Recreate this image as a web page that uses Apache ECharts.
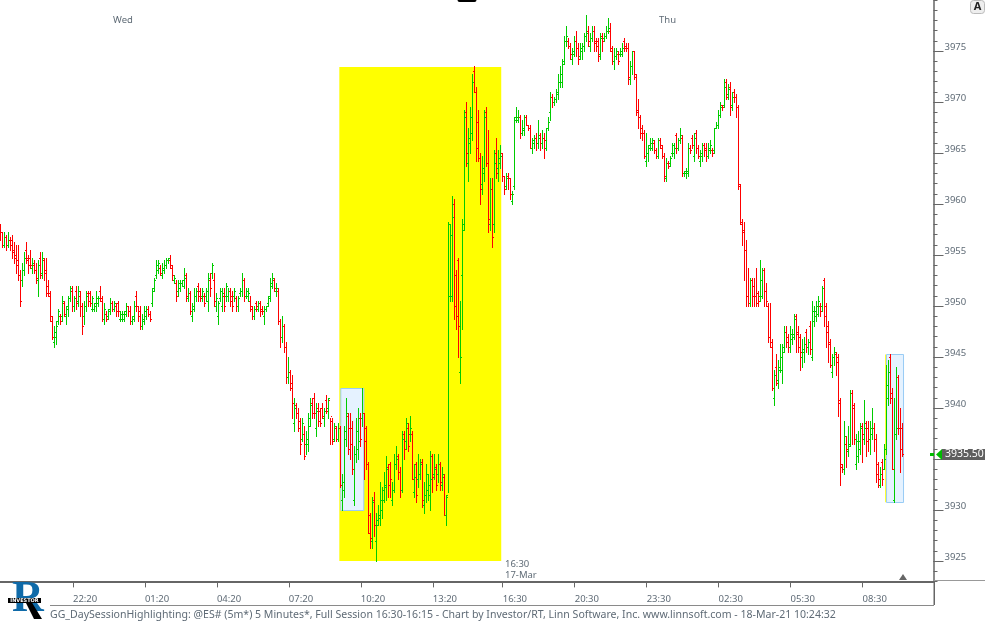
<!DOCTYPE html>
<html>
<head>
<meta charset="utf-8">
<style>html,body{margin:0;padding:0;background:#fff;}#c{width:985px;height:622px;}</style>
<script src="https://cdn.jsdelivr.net/npm/echarts@6/dist/echarts.min.js"></script>
</head>
<body>
<div id="c"></div>
<script>
const highs = [
3958,3957.25,3957.25,3957,3957.25,3956.75,3957,3956.25,3956,3956,
3953.5,3954.25,3955.25,3956.25,3955,3955.5,3954.75,3954.5,3954.25,3954.5,
3955.25,3955.25,3954.75,3954.75,3952.5,3951.5,3949,3948,3948.5,3949.75,
3949.25,3951,3950.5,3950,3951,3952,3952,3951,3952,3952,
3951.5,3950.25,3950.5,3951.5,3951.5,3951.5,3951,3950.25,3951.5,3951,
3952,3951,3950.25,3949.5,3949.75,3950.75,3950.5,3950.5,3950.25,3950.5,
3949.5,3949.5,3949.5,3950.25,3950,3950,3949,3950.5,3951.5,3950,
3950,3949.25,3950,3950,3950,3949.5,3951.75,3952.75,3954.5,3954.5,
3954,3954.25,3954.5,3954.75,3954.75,3955,3954,3953,3952.5,3952.5,
3952.5,3952.5,3953.75,3953.25,3951.75,3951.5,3950.25,3951.75,3951.75,3952.25,
3951.75,3951.75,3951.25,3951.75,3953.25,3953.25,3954.25,3953.25,3951.25,3950.5,
3951.75,3951.75,3951.75,3952.25,3951.75,3951.75,3951.5,3951.75,3951,3951,
3951.75,3953.25,3952.75,3951.75,3951.75,3951,3950,3950,3950.5,3950.5,
3950.5,3950,3950,3950,3951,3952.75,3953.25,3952.75,3952.25,3951.75,
3948.75,3949,3948.25,3946.5,3945,3943.75,3943.25,3941,3940.5,3940,
3939,3939,3938.25,3937.75,3939.5,3941,3941,3941.5,3940.5,3940.5,
3940,3940.5,3940,3941.25,3941,3939,3939,3938.5,3938.25,3938.5,
3938.25,3933.5,3938.25,3941,3939.5,3939.5,3938.75,3936.25,3939,3940,
3939.5,3942,3939.5,3938.25,3934.75,3929.75,3931.25,3931.75,3929.75,3930.5,
3932.75,3932.25,3933.75,3935.25,3934.5,3934.75,3932.75,3935.5,3936.25,3935.5,
3934.25,3937.75,3937.75,3939,3938.5,3939.25,3937.75,3934.5,3934.75,3935.5,
3935,3935,3932.75,3934.5,3933.5,3935.75,3935.5,3935.5,3934.5,3935.5,
3934.75,3934.25,3933.5,3931.5,3958.25,3958,3960.75,3960.5,3953.5,3954.75,
3950.5,3958.5,3969.25,3970,3967.5,3969.5,3972.75,3973.5,3971.5,3969.25,
3965,3964.75,3969.25,3969.5,3967.25,3962.5,3962.5,3965.25,3966.5,3965.25,
3965.75,3965,3962.75,3963,3963,3962.5,3961.25,3968.5,3969.5,3969.25,
3968.75,3968.25,3968.75,3968.75,3967.75,3967.75,3966.5,3966.75,3967,3968.25,
3967,3967.25,3967,3967.5,3968.5,3971,3970.75,3970.5,3971.25,3972.75,
3973.5,3974.25,3976.5,3977.5,3976.25,3975.75,3975.25,3976.5,3977,3975.75,
3975.75,3975.75,3976.75,3978.5,3977.5,3976.75,3977.5,3977.5,3976.25,3976.25,
3976.75,3976.75,3976.75,3977.5,3978.25,3977.75,3975.5,3975.25,3975.25,3975,
3975.25,3975.75,3976.25,3975.75,3975.75,3974,3975,3975,3972.75,3970.25,
3968.75,3967.75,3967.25,3967,3965.75,3966.5,3966.5,3966.25,3965.5,3966.5,
3966.5,3965.75,3965,3964.5,3964.25,3964.75,3966,3966,3967,3966.5,
3967.5,3966.75,3963.25,3963.5,3966,3965.75,3966.75,3967,3967.25,3965.75,
3965.25,3966,3966,3966,3966,3966.25,3965.5,3967.5,3968,3969.25,
3970,3969.75,3972.25,3972.25,3971.75,3972,3971,3971.25,3970.75,3969.75,
3962,3958.5,3958.25,3956.5,3953.75,3952.75,3952.75,3952.75,3953.75,3951.5,
3954.5,3953.75,3953.75,3952.25,3950.25,3950.25,3946.75,3943.75,3945.25,3944.75,
3946.25,3946.25,3948,3948,3947.25,3948,3947.75,3949.25,3949.25,3948,
3947.25,3946.75,3947,3947.75,3946.75,3948.5,3950.5,3950,3950.5,3951,
3950.25,3952,3952.75,3950.25,3948.5,3946.75,3945.25,3946,3945.5,3945.25,
3941,3934.5,3938.75,3937.25,3938.25,3941.75,3941.75,3940.5,3937.5,3937.75,
3938.5,3938.5,3940.75,3938.75,3938.75,3938.75,3940,3938.5,3937.5,3934.75,
3934.25,3935,3936.5,3944.25,3944.75,3945.25,3942,3941,3944,3943.25,
3940,3938.5];
const lows = [
3956.5,3955.75,3955.75,3955.5,3955.75,3955.5,3954.75,3954.25,3953.25,3952.5,
3950,3952,3953,3954.25,3953.25,3953.75,3953.25,3953.25,3952.25,3951,
3952.75,3952.75,3952.5,3951,3951,3948.5,3946.75,3946,3946.25,3948.25,
3948.25,3948.5,3949,3948.25,3949,3950.5,3949.5,3949.5,3949.75,3950,
3949,3947.25,3948.25,3949.5,3950,3950,3949.5,3949.5,3949.5,3950,
3950.5,3948.5,3948.25,3948.5,3948.75,3949.25,3949.5,3949.5,3949,3949,
3948.5,3948.5,3948.5,3949,3949,3948.25,3948.25,3948.5,3949.5,3948.5,
3947.75,3947.75,3948.25,3948.75,3949,3948.5,3950,3951.5,3952.75,3953.25,
3953,3952.75,3953.25,3953.75,3954.25,3953.75,3952.5,3952.25,3950.5,3951,
3951.5,3952,3951.75,3950.5,3950.5,3949.25,3948.5,3949.5,3950.5,3950.5,
3950.5,3950.5,3950,3950.5,3949.5,3951,3952.75,3950,3949.5,3948.25,
3950.5,3949.5,3949.5,3950.5,3950.5,3950,3949.5,3950.5,3949.5,3949.5,
3951,3951,3950.5,3950.75,3950.5,3949.5,3948.75,3948.75,3949.5,3949.5,
3949,3949.25,3948.25,3949.5,3950,3950.5,3951.75,3951.5,3951,3948.25,
3946,3946.5,3945.5,3942.5,3942.5,3941.75,3939,3937.75,3939,3937.75,
3935.5,3936.75,3935,3935.5,3935.75,3938.25,3939,3939,3937.25,3938.25,
3938.25,3939,3938.25,3939.5,3939,3936.5,3936.5,3936.75,3936.75,3936.75,
3932.25,3930,3931.25,3936.25,3935.5,3935,3933.5,3930.5,3934.75,3935,
3936.25,3938.25,3933,3934,3927.75,3926.25,3926.25,3927.5,3925,3928.5,
3928.5,3929.25,3930.75,3931,3931.25,3931.25,3930.5,3931.75,3934,3933,
3931.25,3931.75,3935,3936,3935.75,3936.75,3933,3931.25,3930.75,3932.25,
3933,3930.25,3929.75,3930.75,3931,3930,3931.75,3933,3932,3932.75,
3932,3932,3929.5,3928.5,3931.75,3950.5,3950.5,3948.75,3947.75,3945,
3942.5,3947.75,3957.5,3963.75,3962.25,3965,3966.25,3971,3964.25,3964.25,
3960,3961,3962.25,3963.75,3957.25,3957.5,3955.75,3957.25,3962.5,3962.25,
3963.5,3962.25,3961,3961.5,3961.5,3960.5,3960,3961.5,3968,3968,
3966.5,3966.75,3966.75,3967.75,3967.25,3965.5,3965,3965.5,3965.25,3965.5,
3965.25,3965.5,3964.5,3965.25,3967.25,3968.25,3969.5,3969.75,3970,3970.25,
3971.5,3971.5,3973.75,3975.5,3975.25,3974.25,3973.75,3974.5,3974.5,3973.75,
3974.25,3974.25,3975,3976,3975.5,3975,3976,3975,3975,3974,
3974.25,3975,3976,3976.25,3976.75,3975,3973.75,3973.25,3974.25,3973.75,
3974.5,3974.5,3975,3975,3971.75,3971.75,3972.75,3972.25,3968.75,3967.5,
3966.5,3966.25,3964.5,3963.75,3964.25,3965.25,3965.25,3965,3964.5,3964.5,
3965.5,3964.5,3962.25,3962.25,3963.5,3963.75,3964.75,3964.5,3965,3965.25,
3966,3962.75,3962.75,3962.5,3962.75,3965,3965.5,3964.25,3965,3964.5,
3963.75,3964.25,3964.75,3964.25,3964.5,3965,3964.75,3965,3967.5,3967.5,
3968.5,3969.25,3969.5,3970.25,3970.25,3968.75,3969.25,3970,3968.5,3961.5,
3958,3956,3952.5,3950,3950,3950,3950,3950,3950,3950,
3950.5,3950.75,3950,3950,3946.5,3946,3941.75,3940.25,3942.25,3942,
3943.5,3942.5,3945.5,3946,3945.5,3945.5,3946.25,3946.75,3945.5,3945.5,
3943.75,3944,3944.5,3945.5,3945.25,3945.25,3944.75,3948,3948.5,3949,
3949,3949.5,3948,3946,3944.5,3944,3943,3944.25,3943.25,3939.25,
3932.5,3933.75,3933.5,3934.25,3935.25,3936.25,3936.5,3936.5,3934,3934.75,
3935.5,3934.75,3936.5,3935.25,3935.75,3935.5,3937,3935.75,3932.75,3932.25,
3932.25,3932.5,3934,3935.5,3940.25,3940.5,3934,3930.75,3937,3937.5,
3933.75,3935.25];
const opens = [
3957.75,3957.25,3956,3956.75,3956,3956.5,3956.5,3955.5,3955,3954.5,
3953,3952.5,3953.5,3955.5,3954.5,3954.75,3953.75,3954,3953.5,3952.5,
3954.75,3953.25,3954.5,3953.5,3952,3951,3948.5,3946.5,3947,3948.5,
3949,3949,3950.25,3949,3950,3950.75,3951.5,3950,3951.5,3950.5,
3951,3950,3949,3950,3951.25,3951.25,3949.75,3949.75,3950,3950.25,
3951.5,3950.5,3948.75,3949.25,3949,3949.75,3950.25,3949.75,3950,3950.25,
3948.75,3948.75,3948.75,3949.5,3950,3949.5,3948.5,3949,3951,3950,
3949.5,3948,3948.5,3949,3949.75,3949.25,3950.25,3951.75,3953,3953.5,
3953.75,3953,3953.5,3954,3954.5,3954.5,3953.75,3952.5,3952.25,3951.5,
3951.75,3952.25,3952,3953,3950.75,3951.25,3949,3950,3951,3952,
3951.5,3951,3951,3951,3950.5,3952.5,3953.25,3952.5,3950,3949,
3950.75,3950,3951,3951,3951,3951.5,3951,3951,3950.75,3950,
3951.25,3951.5,3952.5,3951,3951,3950.5,3949.75,3949,3950.25,3949.75,
3950.25,3949.75,3949,3949.75,3950.25,3951,3952,3952.5,3951.5,3951.5,
3948.5,3947,3948,3946,3943,3943.5,3942.5,3938.5,3940.25,3939.5,
3938.75,3937,3937.5,3936.5,3936.5,3939,3940.5,3941,3938,3940,
3939.75,3940,3939,3940.75,3940,3940.75,3938.75,3937,3938,3937,
3938,3931,3932,3937,3939.25,3938,3938,3931,3935.5,3936,
3939,3939,3939.5,3938,3934.5,3929.5,3927,3931,3927,3929,
3929.5,3930,3931,3932.5,3934.25,3934.5,3931,3932,3934.5,3935.25,
3933.75,3932,3937.5,3936.75,3938,3937.5,3937.5,3931.75,3934.5,3933,
3933.5,3934.75,3930.5,3931.5,3932,3931.5,3935.25,3933.5,3934.25,3933.5,
3934.5,3932.5,3933.25,3929.5,3931.5,3951,3951,3960,3953,3954.5,
3943.5,3953,3958,3969,3964,3966,3967,3973,3971,3968,
3964.5,3962,3963,3969,3964,3958,3961.5,3958,3965,3963.5,
3964,3965,3962.75,3961.75,3962.75,3962.5,3960.25,3961.75,3968.25,3968.25,
3968.5,3967,3967.25,3968.5,3967.75,3967.5,3965.5,3966.25,3966.5,3966,
3966.75,3966,3966.5,3965.5,3967.5,3969,3970.5,3970,3970.25,3971,
3972,3972,3974,3976,3976,3975.5,3974.25,3975,3976,3975.25,
3974.5,3975,3975.5,3976.5,3977,3975.5,3976.25,3977,3976,3976,
3974.75,3976.5,3976.25,3976.5,3977,3977,3975,3974,3974.5,3974.75,
3974.75,3974.75,3976,3975.5,3975.25,3972.25,3973.5,3975,3972.5,3969,
3968.5,3967.5,3967,3964.25,3965,3965.75,3965.5,3966,3965.25,3964.75,
3966.25,3965.5,3964.75,3962.5,3964,3964,3965,3965,3966.75,3965.5,
3966.25,3966.5,3963,3963,3963,3965.5,3966.5,3964.75,3967,3965.5,
3964.25,3964.75,3965.75,3965.5,3964.75,3965.25,3965.25,3965.25,3967.5,3967.75,
3968.75,3969.75,3969.75,3972,3970.75,3971.5,3969.75,3971,3970.5,3969.5,
3961.75,3958,3957.5,3955.5,3951,3950.25,3952.5,3952,3951,3951.25,
3951,3951,3953.5,3951.5,3950,3947,3946,3941,3944,3942.75,
3944,3943.75,3946,3947.5,3947,3946,3946.75,3947.25,3949,3947.5,
3947,3945,3945.5,3947.5,3946,3948,3945,3948.5,3949,3949.25,
3950,3950,3952.5,3950,3948,3946.5,3943.5,3945,3945.25,3945,
3940.75,3934.25,3934,3936.5,3935.75,3936.5,3941.5,3940,3934.5,3935.25,
3936,3938.25,3937,3938.5,3938,3937,3937.5,3938,3937,3934.5,
3932.5,3934.75,3934,3936,3941,3945,3941.5,3931,3937.5,3943,
3938,3938];
const closes = [
3957.25,3956,3956.75,3956,3956.5,3956,3955.25,3954.75,3954,3953,
3950.5,3953.5,3954.75,3954.75,3954,3954,3954.25,3953.5,3952.75,3954,
3953,3954.75,3953.25,3951.25,3951.25,3949,3947,3947.5,3948,3949.5,
3948.5,3950.5,3949.25,3949.75,3950.75,3951.75,3950,3950.75,3950.25,3951.5,
3950,3948,3950,3951,3950.5,3950.25,3950.75,3950.25,3950.75,3950.75,
3950.75,3948.75,3949.75,3948.75,3949.5,3950.25,3949.75,3950.25,3949.5,3949.5,
3949.25,3949.25,3949.25,3950,3949.5,3948.5,3948.75,3950,3950,3949,
3948,3948.75,3949.5,3949.75,3949.25,3948.75,3951.5,3952.5,3954,3954.25,
3953.25,3953.75,3954,3954.5,3954.75,3954,3953,3952.75,3951,3952.25,
3952.25,3952.5,3952.75,3951,3951.25,3949.5,3949.75,3951,3951.5,3951,
3950.75,3951.5,3950.25,3951.5,3952.75,3951.75,3954,3950.5,3950.75,3950.25,
3951.5,3951.25,3950,3952,3951.5,3950.5,3950,3951.5,3950,3950.75,
3951.5,3952.5,3951,3951.5,3951.25,3950,3949,3949.75,3950,3950.25,
3949.5,3949.5,3949.75,3950,3950.75,3952.25,3952.75,3951.75,3951.75,3948.5,
3947,3948,3946,3943,3943.5,3942,3940.5,3940,3939.5,3938,
3936.5,3938.5,3935.25,3937,3938.25,3940.25,3939.5,3939.5,3939.75,3938.75,
3938.5,3939.25,3939.75,3939.75,3941,3939.25,3936.75,3938.25,3937,3938,
3932.5,3932.75,3937.75,3939.5,3936,3936.5,3934,3935.5,3937.75,3936.75,
3937,3939.5,3936.75,3934.5,3927.75,3927.25,3930.75,3928.5,3928.5,3929.25,
3931,3932,3932.25,3934,3932.5,3933,3932,3934.5,3935,3933.75,
3932,3937,3936,3938.5,3936.25,3938,3933,3933.25,3931.5,3933.5,
3934.5,3931,3931.5,3933.5,3932.5,3933,3933.25,3934,3932.5,3934.5,
3932.75,3933.5,3929.5,3931.25,3958,3957,3958.75,3950,3949,3948,
3945,3957.5,3968.5,3965,3966.5,3968.5,3972,3971,3965.5,3964.5,
3961.5,3963.5,3968.5,3964,3958.5,3961.5,3956.75,3964,3963,3964.5,
3964.75,3962.75,3961.5,3962.5,3962.5,3961,3961,3968.5,3968.5,3968.5,
3967,3967.5,3968.5,3967.75,3967.5,3965.5,3966,3966.5,3966,3966.5,
3966,3966.5,3966.25,3967.5,3968,3970.5,3970,3970.25,3970.75,3972,
3972.75,3973.75,3976,3976.5,3975.5,3974.75,3974.75,3976,3975.25,3974.25,
3975.25,3975.5,3976.5,3976.75,3976,3976.25,3977,3975.75,3975.5,3974.5,
3976.25,3976,3976.5,3977,3977.25,3975.25,3974,3974.5,3975,3974,
3975,3975.25,3975.25,3975.25,3972.5,3973.5,3975,3972.75,3969.25,3968.5,
3967,3967,3964.75,3965,3965.5,3966,3966.25,3965.25,3964.75,3966.25,
3965.75,3964.75,3962.75,3964,3963.75,3964.5,3965.75,3965.5,3965.5,3966.25,
3966.75,3963,3963.25,3963.25,3965.5,3965.25,3965.75,3966.5,3965.5,3964.75,
3965,3965.75,3965.25,3964.75,3965.5,3965.75,3965,3967.5,3967.75,3968.75,
3969.5,3969.5,3971.5,3970.5,3971.25,3969.5,3970.5,3970.5,3969.5,3962,
3958.25,3957.25,3955.5,3951,3950.25,3952.5,3951,3951,3950.25,3950.5,
3952.5,3953.5,3951.5,3950.5,3947,3946.5,3942,3943.25,3942.5,3943.75,
3945,3945.5,3947.5,3946.5,3946,3947.25,3947,3948.75,3947.25,3946,
3945.5,3945.75,3946.25,3946,3946.5,3945.75,3949.5,3949.5,3950,3950.5,
3949.5,3951.75,3949,3947.5,3946.25,3944.25,3945,3945.5,3944.5,3940.5,
3934.5,3934,3937.25,3936,3936.25,3941.5,3940.25,3937,3936.75,3936.75,
3938,3937.5,3938,3936.75,3937,3938,3938,3937,3933.5,3933,
3933.5,3933,3935,3942.25,3943.5,3941,3934,3937.5,3938,3938,
3936,3935.5];

const tickIndexes = [36,72,108,144,180,216,251,287,323,359,395,431];
const tickLabels = ['22:20','01:20','04:20','07:20','10:20','13:20','16:30','20:30','23:30','02:30','05:30','08:30'];
const priceTicks = [3925,3930,3935,3940,3945,3950,3955,3960,3965,3970,3975];
const zones = [
  // first bar, last bar, top price, bottom price, kind
  [169,250,3973.43,3925,'session'],
  [170,181,3942,3930,'range'],
  [443,451,3945.25,3930.75,'range'],
  [443,443,3945.25,3930.75,'sliver']
];
const barSlots = 467;
const lastPrice = '3935.50';
const footer = 'GG_DaySessionHighlighting: @ES# (5m*) 5 Minutes*, Full Session 16:30-16:15 - Chart by Investor/RT, Linn Software, Inc. www.linnsoft.com - 18-Mar-21 10:24:32';

const UP = '#00cc00', DOWN = '#ff0000';
const slots = Array.from({length: barSlots}, (_, i) => i);
const bars = highs.map((h, i) => [i, opens[i], h, lows[i], closes[i]]);
const labelAt = Object.fromEntries(tickIndexes.map((t, k) => [t, tickLabels[k]]));
const AXC = '#666', TXT = '#5f6b76', FONT = '"Noto Sans", sans-serif';

function renderBar(params, api) {
  const i = api.value(0), o = api.value(1), h = api.value(2), l = api.value(3), c = api.value(4);
  const top = api.coord([i, h]), bot = api.coord([i, l]);
  const px = Math.floor(top[0]);
  const x = px + 0.5;
  const yo = Math.round(api.coord([i, o])[1]) + 0.5, yc = Math.round(api.coord([i, c])[1]) + 0.5;
  const style = {stroke: c < o ? DOWN : UP, lineWidth: 1, fill: null};
  return {type: 'group', children: [
    {type: 'line', shape: {x1: x, y1: Math.round(top[1]), x2: x, y2: Math.round(bot[1]) + 1}, style},
    {type: 'line', shape: {x1: px - 1, y1: yo, x2: px, y2: yo}, style},
    {type: 'line', shape: {x1: px + 1, y1: yc, x2: px + 2, y2: yc}, style}
  ]};
}
function renderZone(params, api) {
  const a = api.coord([api.value(0), api.value(2)]);
  const b = api.coord([api.value(1), api.value(3)]);
  const kind = zones[params.dataIndex][4];
  if (kind === 'session') {
    return {type: 'rect', shape: {x: a[0] + 0.5, y: a[1], width: b[0] - a[0], height: b[1] - a[1]},
      style: {fill: '#ffff00', stroke: null}};
  }
  if (kind === 'sliver') {
    return {type: 'rect', shape: {x: a[0] - 1.5, y: a[1], width: 1, height: b[1] - a[1]},
      style: {fill: '#ffff33', stroke: null}};
  }
  return {type: 'rect', shape: {x: a[0], y: Math.round(a[1]) + 0.5, width: b[0] - a[0] + 1, height: Math.round(b[1] - a[1])},
    style: {fill: '#e5f2ff', stroke: '#99ccf5', lineWidth: 1}};
}
const text = (x, y, s, extra) => ({type: 'text', x, y, silent: true, z: 20,
  style: Object.assign({text: s, fill: TXT, font: '9.5px ' + FONT, verticalAlign: 'middle'}, extra || {})});
const hline = (x1, y, x2, color, w) => ({type: 'line', z: 15, silent: true,
  shape: {x1, y1: y, x2, y2: y}, style: {stroke: color, lineWidth: w || 1}});

const chart = echarts.init(document.getElementById('c'), null, {renderer: 'canvas'});
chart.setOption({
  animation: false,
  backgroundColor: '#ffffff',
  grid: {left: -0.5, top: 0, width: 934, height: 581.4},
  xAxis: {
    type: 'category', data: slots, boundaryGap: true,
    axisLine: {show: true, lineStyle: {color: AXC, width: 2}},
    axisTick: {show: true, alignWithLabel: true, length: 6, interval: (i) => i in labelAt, lineStyle: {color: AXC}},
    axisLabel: {show: true, interval: (i) => i in labelAt, formatter: (v) => labelAt[v] || '', align: 'left',
      hideOverlap: false, margin: 12.5, color: TXT, fontSize: 9.5, fontFamily: FONT},
    splitLine: {show: true, showMinLine: false, showMaxLine: false, interval: (i) => i === 251, lineStyle: {color: '#e2e2e2', width: 1}}
  },
  yAxis: [
    {type: 'value', position: 'right', min: 3923, max: 3980, interval: 1, scale: true,
      axisLine: {show: true, onZero: false, lineStyle: {color: AXC, width: 1.5}},
      axisTick: {show: true, length: 4, lineStyle: {color: AXC}},
      axisLabel: {show: false}, splitLine: {show: false}},
    {type: 'value', position: 'right', min: 3923, max: 3980, interval: 1, scale: true,
      axisLine: {show: false},
      axisTick: {show: true, length: 10, customValues: priceTicks, lineStyle: {color: AXC}},
      axisLabel: {show: true, customValues: priceTicks, margin: 11, color: TXT, fontSize: 9.5, fontFamily: FONT,
        verticalAlign: 'bottom', lineHeight: 7, formatter: (v) => String(v)},
      splitLine: {show: false}}
  ],
  series: [
    {type: 'custom', name: 'zones', z: 1, clip: true, renderItem: renderZone, silent: true,
      encode: {x: 0, y: [2, 3]}, data: zones.map(z => [z[0], z[1], z[2], z[3]])},
    {type: 'custom', name: 'bars', z: 3, clip: true, renderItem: renderBar, silent: true,
      encode: {x: 0, y: [1, 2, 3, 4]}, data: bars}
  ],
  graphic: [
    text(113, 20.5, 'Wed'),
    text(659, 20.5, 'Thu'),
    text(505, 564.5, '16:30'),
    text(505, 575.5, '17-Mar'),
    text(50, 615, footer, {font: '10.55px ' + FONT}),
    hline(50, 605.5, 934, '#8a8a8a', 1),
    hline(934, 580.5, 985, '#999999', 1),
    {type: 'line', z: 15, silent: true, shape: {x1: 934.25, y1: 581, x2: 934.25, y2: 605}, style: {stroke: AXC, lineWidth: 1.5}},
    {type: 'polygon', z: 16, silent: true, shape: {points: [[899, 580], [907, 580], [903, 574]]}, style: {fill: '#666'}},
    {type: 'rect', z: 16, silent: true, shape: {x: 457.5, y: -3, width: 19, height: 5, r: 2}, style: {fill: '#000'}},
    {type: 'rect', z: 16, silent: true, shape: {x: 970.5, y: 0.5, width: 14, height: 13, r: 3}, style: {fill: '#eeeeee', stroke: '#bbbbbb', lineWidth: 1}},
    text(977.5, 7, 'A', {align: 'center', font: 'bold 11px ' + FONT, fill: '#222'}),
    {type: 'rect', z: 16, silent: true, shape: {x: 942, y: 449, width: 43, height: 11}, style: {fill: '#5f5f5f'}},
    text(945, 454.5, lastPrice, {font: '10.5px ' + FONT, fill: '#ffffff'}),
    {type: 'polygon', z: 16, silent: true, shape: {points: [[936, 454.5], [942, 449], [942, 460]]}, style: {fill: '#00bb00'}},
    {type: 'rect', z: 16, silent: true, shape: {x: 930, y: 453, width: 4, height: 3}, style: {fill: '#00bb00'}},
    // logo
    {type: 'text', z: 17, silent: true, x: 12, y: 578, style: {text: 'R', font: 'bold 44px "Liberation Serif", serif', fill: '#0f6aa8'}},
    {type: 'polygon', z: 18, silent: true, shape: {points: [[25, 601], [31, 601], [42, 619], [34, 619]]}, style: {fill: '#000'}},
    {type: 'rect', z: 19, silent: true, shape: {x: 8, y: 598, width: 33, height: 5}, style: {fill: '#000'}},
    {type: 'text', z: 20, silent: true, x: 24.5, y: 600.5, style: {text: 'INVESTOR', align: 'center', verticalAlign: 'middle', font: 'bold 5px "DejaVu Sans", sans-serif', fill: '#fff'}}
  ]
});
</script>
</body>
</html>
